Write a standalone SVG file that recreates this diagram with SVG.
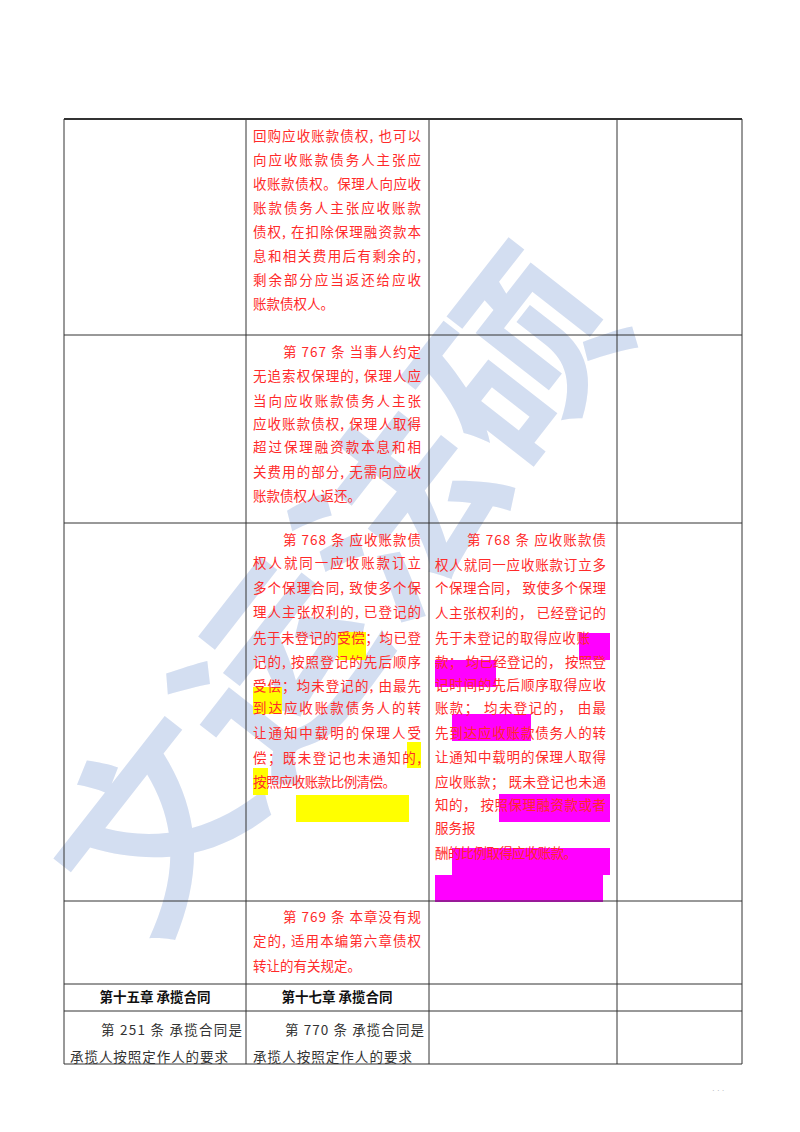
<svg xmlns="http://www.w3.org/2000/svg" width="800" height="1132" viewBox="0 0 800 1132">
<style>
.r{font-family:"Noto Sans CJK SC","Liberation Serif",sans-serif;font-size:13.5px;fill:#ff2a2a}
.k{font-family:"Noto Sans CJK SC","Liberation Serif",sans-serif;font-size:13.5px;fill:#333}
.h{font-family:"Noto Sans CJK SC",sans-serif;font-size:13.5px;font-weight:bold;fill:#111}
.g{stroke:#333;stroke-width:1;fill:none}
.wm{font-family:"Noto Sans CJK SC",sans-serif;font-size:190px;font-weight:bold;fill:#c9d6ee;opacity:0.8}
</style>
<rect width="800" height="1132" fill="#fff"/>
<g id="watermark"><text class="wm" transform="translate(150,945) rotate(-52)" textLength="790" lengthAdjust="spacingAndGlyphs">文运法硕</text></g>
<g id="highlights">
<rect x="338" y="632" width="28" height="28" fill="#ffff00"/>
<rect x="253" y="687" width="29" height="27" fill="#ffff00"/>
<rect x="407" y="742" width="14" height="26" fill="#ffff00"/>
<rect x="253" y="768" width="15" height="27" fill="#ffff00"/>
<rect x="296" y="795" width="113" height="27" fill="#ffff00"/>
<rect x="579" y="633" width="31" height="27" fill="#ff00ff"/>
<rect x="435" y="660" width="61" height="27" fill="#ff00ff"/>
<rect x="452" y="714" width="79" height="27" fill="#ff00ff"/>
<rect x="499" y="794" width="111" height="28" fill="#ff00ff"/>
<rect x="452" y="848" width="158" height="27" fill="#ff00ff"/>
<rect x="435" y="875" width="168" height="27" fill="#ff00ff"/>
</g>
<g id="table" class="g">
<line x1="64" y1="119" x2="742" y2="119" stroke-width="2"/>
<line x1="64" y1="335" x2="742" y2="335"/>
<line x1="64" y1="523" x2="742" y2="523"/>
<line x1="64" y1="901" x2="742" y2="901"/>
<line x1="64" y1="984" x2="742" y2="984"/>
<line x1="64" y1="1011" x2="742" y2="1011"/>
<line x1="64" y1="1064" x2="742" y2="1064"/>
<line x1="64" y1="119" x2="64" y2="1064"/>
<line x1="246" y1="119" x2="246" y2="1064"/>
<line x1="429" y1="119" x2="429" y2="1064"/>
<line x1="617" y1="119" x2="617" y2="1064"/>
<line x1="742" y1="119" x2="742" y2="1064"/>
</g>
<g id="col2">
<text class="r" x="253" y="141" textLength="168">回购应收账款债权, 也可以</text>
<text class="r" x="253" y="165" textLength="168">向应收账款债务人主张应</text>
<text class="r" x="253" y="189" textLength="168">收账款债权。保理人向应收</text>
<text class="r" x="253" y="213" textLength="168">账款债务人主张应收账款</text>
<text class="r" x="253" y="237" textLength="168">债权, 在扣除保理融资款本</text>
<text class="r" x="253" y="261" textLength="168">息和相关费用后有剩余的,</text>
<text class="r" x="253" y="285" textLength="168">剩余部分应当返还给应收</text>
<text class="r" x="253" y="309">账款债权人。</text>
<text class="r" x="283" y="357" textLength="138">第 767 条 当事人约定</text>
<text class="r" x="253" y="381" textLength="168">无追索权保理的, 保理人应</text>
<text class="r" x="253" y="406" textLength="168">当向应收账款债务人主张</text>
<text class="r" x="253" y="429" textLength="168">应收账款债权, 保理人取得</text>
<text class="r" x="253" y="452" textLength="168">超过保理融资款本息和相</text>
<text class="r" x="253" y="477" textLength="168">关费用的部分, 无需向应收</text>
<text class="r" x="253" y="501">账款债权人返还。</text>
<text class="r" x="283" y="545" textLength="138">第 768 条 应收账款债</text>
<text class="r" x="253" y="568" textLength="168">权人就同一应收账款订立</text>
<text class="r" x="253" y="593" textLength="168">多个保理合同, 致使多个保</text>
<text class="r" x="253" y="617" textLength="168">理人主张权利的, 已登记的</text>
<text class="r" x="253" y="643" textLength="168">先于未登记的受偿；均已登</text>
<text class="r" x="253" y="667" textLength="168">记的, 按照登记的先后顺序</text>
<text class="r" x="253" y="691" textLength="168">受偿；均未登记的, 由最先</text>
<text class="r" x="253" y="713" textLength="168">到达应收账款债务人的转</text>
<text class="r" x="253" y="738" textLength="168">让通知中载明的保理人受</text>
<text class="r" x="253" y="763" textLength="168">偿；既未登记也未通知的,</text>
<text class="r" x="253" y="787" textLength="143">按照应收账款比例清偿。</text>
<text class="r" x="283" y="922" textLength="138">第 769 条 本章没有规</text>
<text class="r" x="253" y="946" textLength="168">定的, 适用本编第六章债权</text>
<text class="r" x="253" y="971">转让的有关规定。</text>
</g>
<g id="col3">
<text class="r" x="467" y="545" textLength="139">第 768 条 应收账款债</text>
<text class="r" x="435" y="570" textLength="171">权人就同一应收账款订立多</text>
<text class="r" x="435" y="593" textLength="171">个保理合同， 致使多个保理</text>
<text class="r" x="435" y="618" textLength="171">人主张权利的， 已经登记的</text>
<text class="r" x="435" y="643" textLength="155">先于未登记的取得应收账</text>
<text class="r" x="435" y="667" textLength="171">款； 均已经登记的， 按照登</text>
<text class="r" x="435" y="690" textLength="171">记时间的先后顺序取得应收</text>
<text class="r" x="435" y="713" textLength="171">账款； 均未登记的， 由最</text>
<text class="r" x="435" y="738" textLength="171">先到达应收账款债务人的转</text>
<text class="r" x="435" y="762" textLength="171">让通知中载明的保理人取得</text>
<text class="r" x="435" y="787" textLength="171">应收账款； 既未登记也未通</text>
<text class="r" x="435" y="810" textLength="171">知的， 按照保理融资款或者</text>
<text class="r" x="435" y="833">服务报</text>
<text class="r" x="435" y="858" textLength="142">酬的比例取得应收账款。</text>
</g>
<g id="bottom">
<text class="h" x="155" y="1002" text-anchor="middle">第十五章  承揽合同</text>
<text class="h" x="337" y="1002" text-anchor="middle">第十七章  承揽合同</text>
<text class="k" x="101" y="1035" textLength="141">第 251 条 承揽合同是</text>
<text class="k" x="70" y="1062" textLength="158">承揽人按照定作人的要求</text>
<text class="k" x="285" y="1035" textLength="139">第 770 条 承揽合同是</text>
<text class="k" x="253" y="1062" textLength="159">承揽人按照定作人的要求</text>
<text x="712" y="1093" font-family="Liberation Sans,sans-serif" font-size="8" fill="#aaa">· · ·</text>
</g>
</svg>
